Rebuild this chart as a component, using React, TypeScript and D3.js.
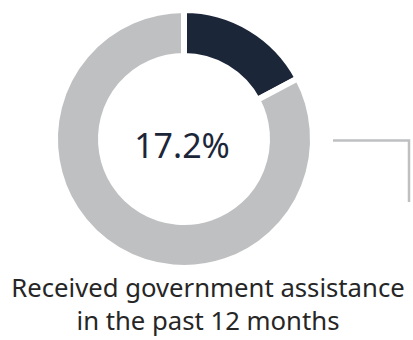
import React from "react";
import * as d3 from "d3";

const categories = ["Received government assistance", "Did not receive"];
const values = [17.2, 82.8];
const colors = ["#1c2639", "#bfc0c2"];
const centerLabel = "17.2%";
const captionLines = ["Received government assistance", "in the past 12 months"];

export default function App() {
  const W = 413, H = 340;
  const cx = 184, cy = 139;
  const outer = 129, inner = 83;
  const pie = d3.pie<number>().sort(null).value((d) => d)(values);
  const arc = d3.arc<d3.PieArcDatum<number>>().innerRadius(inner).outerRadius(outer);
  const line = d3.line()([[333, 140.5], [409, 140.5], [409, 202]]);
  return (
    <svg width={W} height={H} style={{ position: "absolute", left: 0, top: 0, background: "#fff" }}>
      <g transform={`translate(${cx},${cy})`}>
        {pie.map((p, i) => (
          <path key={categories[i]} d={arc(p) || ""} fill={colors[i]} stroke="#fff" strokeWidth={6} strokeLinejoin="miter" />
        ))}
        <text x={-2} y={19} textAnchor="middle" fontFamily="'Noto Sans', sans-serif" fontSize={34} fill="#1c2639">{centerLabel}</text>
      </g>
      <path d={line || ""} fill="none" stroke="#bfc0c2" strokeWidth={2.5} />
      {captionLines.map((t, i) => (
        <text key={i} x={208} y={297 + i * 33} textAnchor="middle" fontFamily="'Noto Sans', sans-serif" fontSize={25.7} fill="#262626">{t}</text>
      ))}
    </svg>
  );
}
